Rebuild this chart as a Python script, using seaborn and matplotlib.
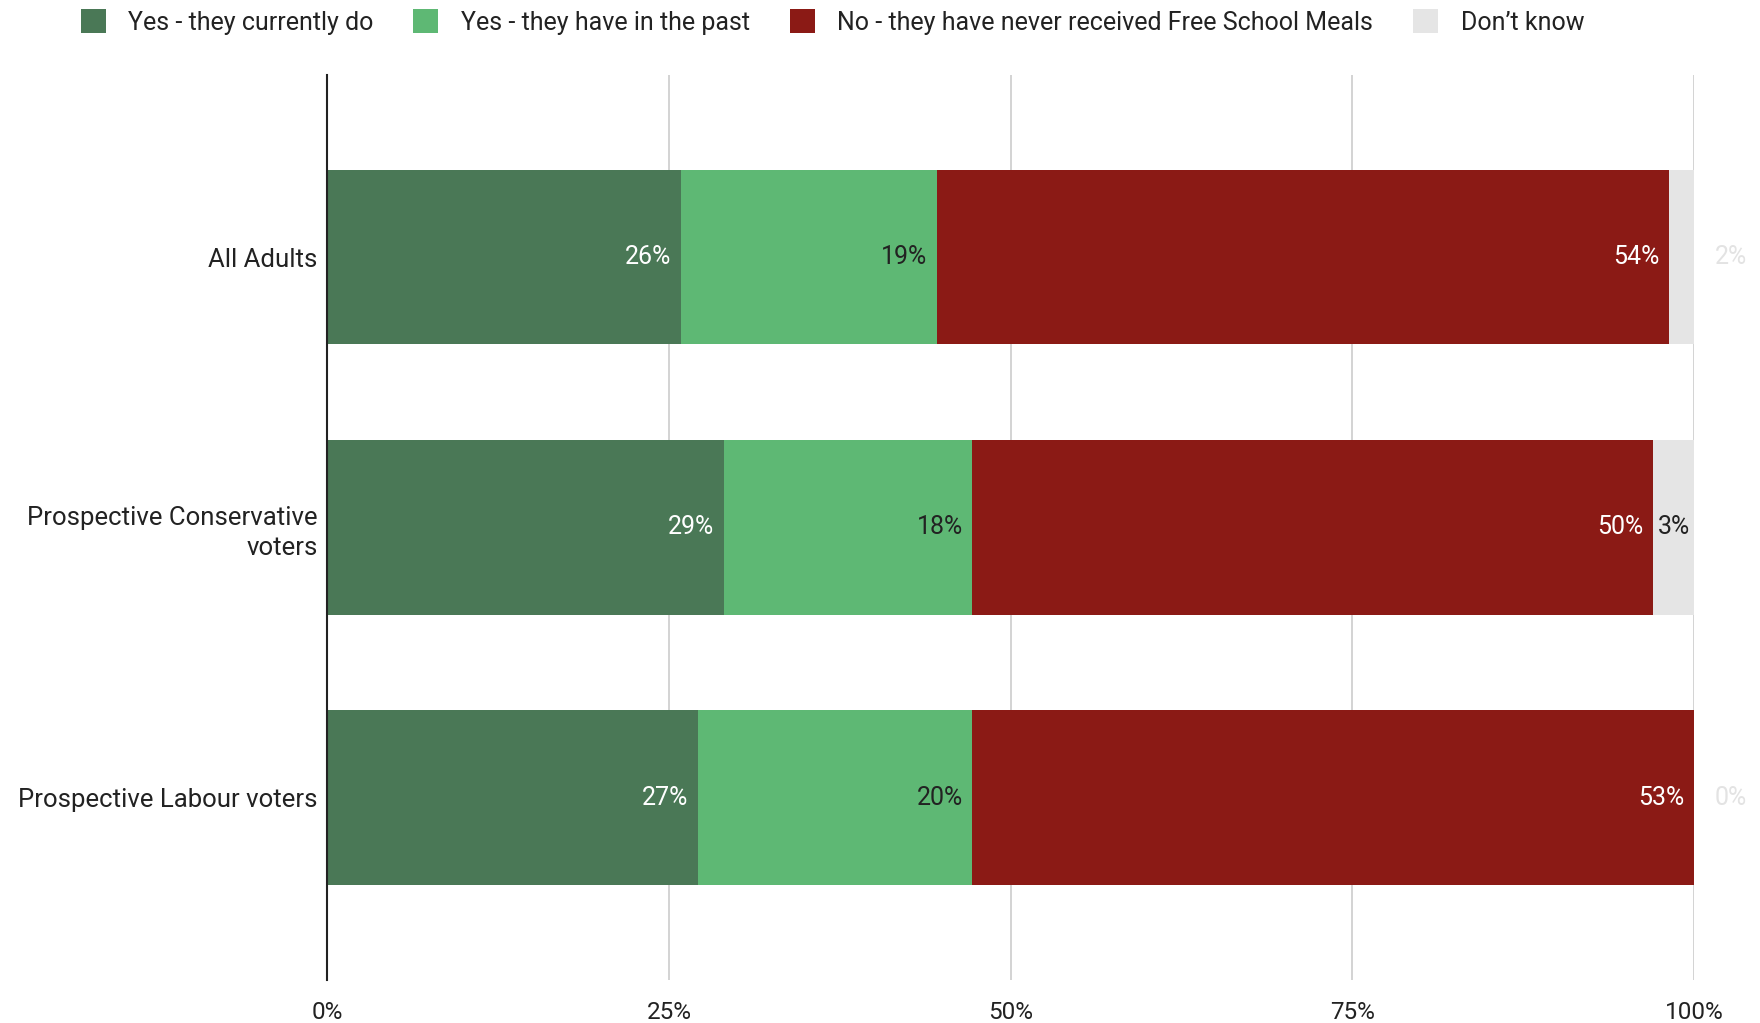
import numpy as np
import pandas as pd
import matplotlib
matplotlib.use("Agg")
import matplotlib.pyplot as plt
from matplotlib.patches import Patch
import seaborn as sns

groups = ["All Adults", "Prospective Conservative\nvoters", "Prospective Labour voters"]
series = ["Yes - they currently do", "Yes - they have in the past",
          "No - they have never received Free School Meals", "Don\u2019t know"]
current = [25.9, 29.0, 27.1]
past = [18.7, 18.2, 20.1]
never = [53.6, 49.8, 52.8]
dont_know = [1.8, 3.0, 0.0]
xticks = [0, 25, 50, 75, 100]

colors = ["#4a7856", "#5eb874", "#8b1a15", "#e5e5e5"]
text_colors = ["white", "#222222", "white", "#222222"]

sns.set_theme(style="white")
plt.rcParams["font.family"] = ["Roboto", "DejaVu Sans"]

df = pd.DataFrame({"group": groups, series[0]: current, series[1]: past,
                   series[2]: never, series[3]: dont_know})
vals = df[series].to_numpy()
cum = np.cumsum(vals, axis=1)

fig = plt.figure(figsize=(17.6, 10.23), dpi=100)
ax = fig.add_axes([0.186, 0.042, 0.9625 - 0.186, 0.885])

# stacked bars: draw cumulative totals, widest first
for i in range(len(series) - 1, -1, -1):
    tmp = pd.DataFrame({"group": groups, "val": cum[:, i]})
    sns.barplot(data=tmp, x="val", y="group", orient="h", color=colors[i],
                width=0.645, saturation=1, linewidth=0, ax=ax, zorder=2)

ax.set_xlim(0, 100)
ax.set_ylim(2.675, -0.675)
ax.set_xticks(xticks)
ax.set_xticklabels([f"{t}%" for t in xticks])
ax.grid(axis="x", color="#cccccc", linewidth=1.2, zorder=0)
ax.set_axisbelow(True)
for s in ["top", "right", "bottom"]:
    ax.spines[s].set_visible(False)
ax.spines["left"].set_color("#222222")
ax.spines["left"].set_linewidth(1.5)
ax.spines["left"].set_zorder(5)
ax.tick_params(axis="both", length=0, colors="#222222")
ax.tick_params(axis="x", pad=15, labelsize=17.5)
ax.tick_params(axis="y", pad=7, labelsize=18.5)
ax.set_xlabel("")
ax.set_ylabel("")
for lab in ax.get_yticklabels():
    lab.set_horizontalalignment("right")
    lab.set_linespacing(1.3)

# value labels
for r in range(len(groups)):
    for i in range(len(series)):
        v = vals[r, i]
        txt = f"{round(v)}%"
        if v >= 2.5:
            off = -7 if i < 3 else -3
            ax.annotate(txt, xy=(cum[r, i], r), xytext=(off, 0),
                        textcoords="offset points", ha="right", va="center",
                        fontsize=18, color=text_colors[i], zorder=6)
        else:
            ax.annotate(txt, xy=(100, r), xytext=(15, 0),
                        textcoords="offset points", ha="left", va="center",
                        fontsize=18, color="#e3e3e3", zorder=6,
                        annotation_clip=False)

handles = [Patch(facecolor=c, edgecolor="none") for c in colors]
fig.legend(handles, series, loc="upper center", bbox_to_anchor=(0.473, 1.013),
           ncol=4, frameon=False, fontsize=18, handlelength=1.0,
           handleheight=1.1, handletextpad=0.9, columnspacing=1.6,
           labelcolor="#222222")

fig.savefig("out.png", dpi=100)
